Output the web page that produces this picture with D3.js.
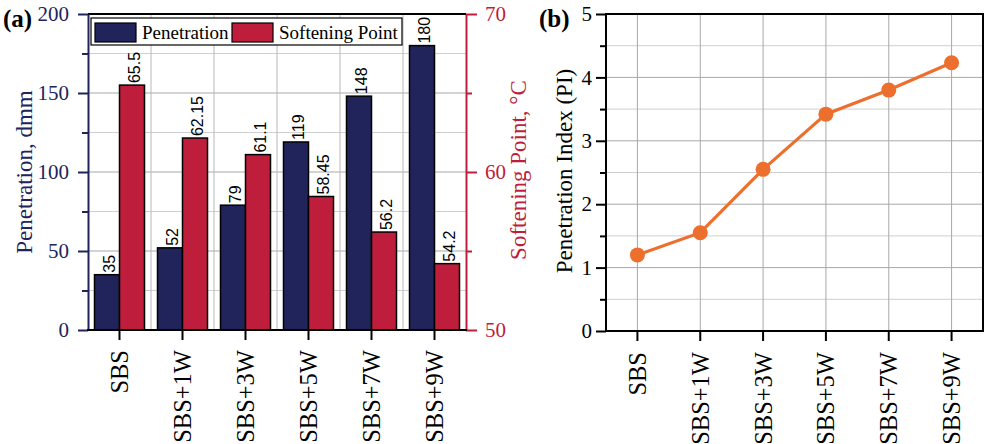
<!DOCTYPE html>
<html>
<head>
<meta charset="utf-8">
<script src="https://cdn.jsdelivr.net/npm/d3@7"></script>
<style>
  html, body { margin: 0; padding: 0; background: #fff; }
  svg { display: block; }
</style>
</head>
<body>
<svg id="chart" width="986" height="444"></svg>
<script>
// Sample groups
const categories = ["SBS", "SBS+1W", "SBS+3W", "SBS+5W", "SBS+7W", "SBS+9W"];
// Penetration (dmm), left axis of panel (a)
const penetration = [35, 52, 79, 119, 148, 180];
// Softening point (°C), right axis of panel (a)
const softening = [65.5, 62.15, 61.1, 58.45, 56.2, 54.2];
// Penetration index, panel (b)
const penetrationIndex = [1.2, 1.55, 2.55, 3.42, 3.8, 4.23];

const penTicks = [0, 50, 100, 150, 200];
const softTicks = [50, 60, 70];
const piTicks = [0, 1, 2, 3, 4, 5];

const NAVY = "#20245a";
const CRIMSON = "#be1e3b";
const ORANGE = "#ec6f2d";
const SERIF = "'Liberation Serif', 'Times New Roman', serif";
const SANS = "'Liberation Sans', Arial, sans-serif";
const CAT_FONT = 24.5;

const svg = d3.select("#chart");

// ---------- Panel (a): grouped bars with two y axes ----------
const A = { left: 88, right: 466, top: 14, bottom: 330 };
const xA = d3.scaleBand().domain(categories).range([A.left, A.right]).padding(0);
const xSub = d3.scaleBand().domain(["pen", "soft"]).range([0, xA.bandwidth()]).paddingOuter(0.26).paddingInner(0);
const yPen = d3.scaleLinear().domain([0, 200]).range([A.bottom, A.top]);
const ySoft = d3.scaleLinear().domain([50, 70]).range([A.bottom, A.top]);

const gA = svg.append("g");

// grid
const gridA = gA.append("g");
d3.range(25, 200, 25).forEach(v => {
  gridA.append("line")
    .attr("x1", A.left).attr("x2", A.right)
    .attr("y1", yPen(v)).attr("y2", yPen(v))
    .attr("stroke", v % 50 === 0 ? "#a8a8a8" : "#cfcfcf").attr("stroke-width", 1);
});
categories.slice(1).forEach(c => {
  const xv = xA(c);
  gridA.append("line")
    .attr("x1", xv).attr("x2", xv)
    .attr("y1", A.top).attr("y2", A.bottom)
    .attr("stroke", "#b8b8b8").attr("stroke-width", 1);
});

// bars
const groups = gA.append("g").selectAll("g").data(categories).join("g")
  .attr("transform", c => `translate(${xA(c)},0)`);

groups.append("rect")
  .attr("x", xSub("pen")).attr("width", xSub.bandwidth())
  .attr("y", (c, i) => yPen(penetration[i]))
  .attr("height", (c, i) => yPen(0) - yPen(penetration[i]))
  .attr("fill", NAVY).attr("stroke", "#000").attr("stroke-width", 1.5);

groups.append("rect")
  .attr("x", xSub("soft")).attr("width", xSub.bandwidth())
  .attr("y", (c, i) => ySoft(softening[i]))
  .attr("height", (c, i) => ySoft(50) - ySoft(softening[i]))
  .attr("fill", CRIMSON).attr("stroke", "#000").attr("stroke-width", 1.5);

// value labels (vertical)
groups.append("text")
  .attr("transform", (c, i) => `translate(${xSub("pen") + xSub.bandwidth() / 2 + 2},${yPen(penetration[i]) - 2}) rotate(-90)`)
  .attr("dominant-baseline", "central")
  .attr("font-family", SANS).attr("font-size", 16).attr("fill", "#000")
  .text((c, i) => penetration[i]);

groups.append("text")
  .attr("transform", (c, i) => `translate(${xSub("soft") + xSub.bandwidth() / 2 + 2},${ySoft(softening[i]) - 2}) rotate(-90)`)
  .attr("dominant-baseline", "central")
  .attr("font-family", SANS).attr("font-size", 16).attr("fill", "#000")
  .text((c, i) => softening[i]);

// frame top
gA.append("line").attr("x1", A.left).attr("x2", A.right).attr("y1", A.top).attr("y2", A.top)
  .attr("stroke", "#000").attr("stroke-width", 2);

// left axis
const leftAxis = gA.append("g").attr("transform", `translate(${A.left},0)`)
  .call(d3.axisLeft(yPen).tickValues(penTicks).tickSize(10).tickPadding(9).tickSizeOuter(0));
gA.append("g").attr("transform", `translate(${A.left},0)`)
  .call(d3.axisLeft(yPen).tickValues(d3.range(25, 200, 50)).tickSize(6).tickFormat("").tickSizeOuter(0))
  .call(g => g.select(".domain").remove())
  .selectAll("line").attr("stroke", NAVY).attr("stroke-width", 2);
leftAxis.select(".domain").attr("stroke", NAVY).attr("stroke-width", 2);
leftAxis.selectAll(".tick line").attr("stroke", NAVY).attr("stroke-width", 2);
leftAxis.selectAll("text").attr("fill", NAVY).attr("font-family", SERIF).attr("font-size", 21);

// right axis
const rightAxis = gA.append("g").attr("transform", `translate(${A.right},0)`)
  .call(d3.axisRight(ySoft).tickValues(softTicks).tickSize(11).tickPadding(8).tickSizeOuter(0));
gA.append("g").attr("transform", `translate(${A.right},0)`)
  .call(d3.axisRight(ySoft).tickValues([55, 65]).tickSize(6).tickFormat("").tickSizeOuter(0))
  .call(g => g.select(".domain").remove())
  .selectAll("line").attr("stroke", CRIMSON).attr("stroke-width", 2);
rightAxis.select(".domain").attr("stroke", CRIMSON).attr("stroke-width", 2);
rightAxis.selectAll(".tick line").attr("stroke", CRIMSON).attr("stroke-width", 2);
rightAxis.selectAll("text").attr("fill", CRIMSON).attr("font-family", SERIF).attr("font-size", 21);

// bottom axis
const xPosA = c => xA(c) + xA.bandwidth() / 2;
const bottomA = gA.append("g").attr("transform", `translate(0,${A.bottom})`);
bottomA.append("line").attr("x1", A.left - 1).attr("x2", A.right + 1).attr("stroke", "#000").attr("stroke-width", 2);
categories.forEach(c => {
  bottomA.append("line").attr("x1", xPosA(c)).attr("x2", xPosA(c)).attr("y1", 0).attr("y2", 10)
    .attr("stroke", "#000").attr("stroke-width", 2);
  bottomA.append("text")
    .attr("transform", `translate(${xPosA(c)},20) rotate(-90)`)
    .attr("text-anchor", "end").attr("dominant-baseline", "central")
    .attr("font-family", SERIF).attr("font-size", CAT_FONT).attr("fill", "#000")
    .text(c);
});

// axis titles
gA.append("text")
  .attr("transform", `translate(24,172) rotate(-90)`)
  .attr("text-anchor", "middle").attr("dominant-baseline", "central")
  .attr("font-family", SERIF).attr("font-size", 23).attr("fill", NAVY)
  .text("Penetration, dmm");
gA.append("text")
  .attr("transform", `translate(518,170) rotate(-90)`)
  .attr("text-anchor", "middle").attr("dominant-baseline", "central")
  .attr("font-family", SERIF).attr("font-size", 23).attr("fill", CRIMSON)
  .text("Softening Point, °C");

// legend
const leg = gA.append("g");
leg.append("rect").attr("x", 91).attr("y", 18).attr("width", 311).attr("height", 27)
  .attr("fill", "#fff").attr("stroke", "#000").attr("stroke-width", 1.2);
const legendItems = [
  { label: "Penetration", color: NAVY, x: 95 },
  { label: "Softening Point", color: CRIMSON, x: 232 }
];
legendItems.forEach(d => {
  leg.append("rect").attr("x", d.x).attr("y", 23).attr("width", 41).attr("height", 19)
    .attr("fill", d.color).attr("stroke", "#000").attr("stroke-width", 1.2);
  leg.append("text").attr("x", d.x + 47).attr("y", 32.5)
    .attr("dominant-baseline", "central")
    .attr("font-family", SERIF).attr("font-size", 19).attr("fill", "#000")
    .text(d.label);
});

// panel tag
svg.append("text").attr("x", 3).attr("y", 27)
  .attr("font-family", SERIF).attr("font-size", 25).attr("font-weight", "bold").attr("fill", "#000")
  .text("(a)");

// ---------- Panel (b): penetration index line ----------
const B = { left: 606, right: 983, top: 14, bottom: 331 };
const xB = d3.scalePoint().domain(categories).range([B.left, B.right]).padding(0.5);
const yB = d3.scaleLinear().domain([0, 5]).range([B.bottom, B.top]);
const gB = svg.append("g");

d3.range(0.5, 5, 0.5).forEach(v => {
  gB.append("line")
    .attr("x1", B.left).attr("x2", B.right)
    .attr("y1", yB(v)).attr("y2", yB(v))
    .attr("stroke", Number.isInteger(v) ? "#a8a8a8" : "#cfcfcf").attr("stroke-width", 1);
});
categories.forEach(c => {
  gB.append("line")
    .attr("x1", xB(c)).attr("x2", xB(c))
    .attr("y1", B.top).attr("y2", B.bottom)
    .attr("stroke", "#a8a8a8").attr("stroke-width", 1);
});

const line = d3.line().x((d, i) => xB(categories[i])).y(d => yB(d));
gB.append("path").datum(penetrationIndex)
  .attr("d", line).attr("fill", "none").attr("stroke", ORANGE).attr("stroke-width", 3.2);
gB.selectAll("circle").data(penetrationIndex).join("circle")
  .attr("cx", (d, i) => xB(categories[i])).attr("cy", d => yB(d)).attr("r", 7.5)
  .attr("fill", ORANGE);

// frame
gB.append("rect").attr("x", B.left).attr("y", B.top)
  .attr("width", B.right - B.left).attr("height", B.bottom - B.top)
  .attr("fill", "none").attr("stroke", "#000").attr("stroke-width", 2);

const leftB = gB.append("g").attr("transform", `translate(${B.left},0)`)
  .call(d3.axisLeft(yB).tickValues(piTicks).tickFormat(d3.format("d")).tickSize(10).tickPadding(4).tickSizeOuter(0));
leftB.select(".domain").remove();
leftB.selectAll(".tick line").attr("stroke", "#000").attr("stroke-width", 2);
leftB.selectAll("text").attr("fill", "#000").attr("font-family", SERIF).attr("font-size", 21);
gB.append("g").attr("transform", `translate(${B.left},0)`)
  .call(d3.axisLeft(yB).tickValues(d3.range(0.5, 5, 1)).tickSize(6).tickFormat(""))
  .call(g => g.select(".domain").remove())
  .selectAll("line").attr("stroke", "#000").attr("stroke-width", 2);

const bottomB = gB.append("g").attr("transform", `translate(0,${B.bottom})`);
categories.forEach(c => {
  bottomB.append("line").attr("x1", xB(c)).attr("x2", xB(c)).attr("y1", 0).attr("y2", 10)
    .attr("stroke", "#000").attr("stroke-width", 2);
  bottomB.append("text")
    .attr("transform", `translate(${xB(c)},21) rotate(-90)`)
    .attr("text-anchor", "end").attr("dominant-baseline", "central")
    .attr("font-family", SERIF).attr("font-size", CAT_FONT).attr("fill", "#000")
    .text(c);
});

gB.append("text")
  .attr("transform", `translate(564,171) rotate(-90)`)
  .attr("text-anchor", "middle").attr("dominant-baseline", "central")
  .attr("font-family", SERIF).attr("font-size", 23).attr("fill", "#000")
  .text("Penetration Index (PI)");

svg.append("text").attr("x", 539).attr("y", 27)
  .attr("font-family", SERIF).attr("font-size", 25).attr("font-weight", "bold").attr("fill", "#000")
  .text("(b)");
</script>
</body>
</html>
